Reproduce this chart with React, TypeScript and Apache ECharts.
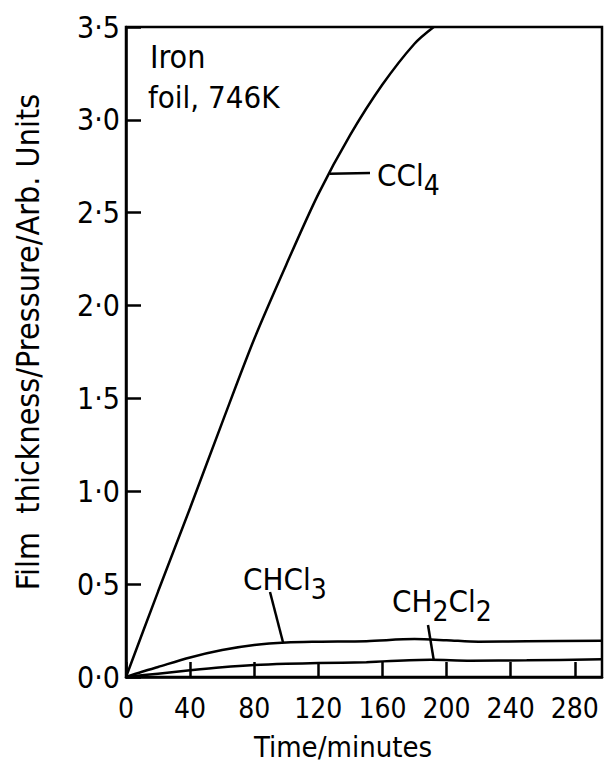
import React, { useEffect, useRef } from 'react';
import * as echarts from 'echarts';

const ccl4Time = [0, 20, 40, 60, 80, 100, 120, 140, 160, 180, 192];
const ccl4Vals = [0, 0.46, 0.91, 1.37, 1.82, 2.22, 2.6, 2.92, 3.19, 3.41, 3.5];

const chcl3Time = [0, 10, 20, 40, 60, 80, 100, 120, 150, 180, 200, 220, 250, 297];
const chcl3Vals = [0, 0.028, 0.054, 0.105, 0.145, 0.172, 0.186, 0.19, 0.193, 0.204, 0.198, 0.19, 0.192, 0.195];

const ch2cl2Time = [0, 20, 40, 60, 80, 100, 120, 150, 190, 215, 250, 297];
const ch2cl2Vals = [0, 0.018, 0.036, 0.052, 0.064, 0.071, 0.075, 0.08, 0.093, 0.088, 0.09, 0.095];

const xMin = 0;
const xMax = 297;
const xInterval = 40;
const yMin = 0;
const yMax = 3.5;
const yInterval = 0.5;

const xTitle = 'Time/minutes';
const yTitle = 'Film  thickness/Pressure/Arb. Units';

const TICK_FONT = "'Liberation Sans Narrow', 'DejaVu Sans Condensed', sans-serif";
const TEXT_FONT = "'DejaVu Sans Condensed', 'Liberation Sans Narrow', sans-serif";

const zip = (t: number[], v: number[]) => t.map((x, i) => [x, v[i]]);

export default function App() {
  const ref = useRef<HTMLDivElement>(null);
  useEffect(() => {
    document.body.style.margin = '0';
    const chart = echarts.init(ref.current!, null, { renderer: 'svg' });
    const lineStyle = { color: '#000', width: 2.5 };
    const axisCommon = {
      axisLine: { show: true, lineStyle: { color: '#000', width: 2.5 } },
      axisTick: { show: true, inside: true, length: 15, lineStyle: { color: '#000', width: 2.5 } },
      splitLine: { show: false },
    };
    chart.setOption({
      animation: false,
      backgroundColor: '#fff',
      grid: { left: 126, right: 5, top: 27, bottom: 87, show: true, borderColor: '#000', borderWidth: 2.5, containLabel: false },
      xAxis: {
        type: 'value', min: xMin, max: xMax, interval: xInterval,
        ...axisCommon,
        axisLabel: {
          margin: 17, fontSize: 28, color: '#000', fontFamily: TICK_FONT, showMaxLabel: false,
          formatter: (v: number) => (v % xInterval === 0 ? String(v) : ''),
        },
      },
      yAxis: {
        type: 'value', min: yMin, max: yMax, interval: yInterval,
        ...axisCommon,
        axisLabel: {
          margin: 6, fontSize: 30, color: '#000', fontFamily: TICK_FONT,
          formatter: (v: number) => v.toFixed(1).replace('.', '\u00b7'),
        },
      },
      series: [
        { name: 'CCl4', type: 'line', data: zip(ccl4Time, ccl4Vals), showSymbol: false, smooth: 0.3, lineStyle },
        { name: 'CHCl3', type: 'line', data: zip(chcl3Time, chcl3Vals), showSymbol: false, smooth: 0.3, lineStyle },
        { name: 'CH2Cl2', type: 'line', data: zip(ch2cl2Time, ch2cl2Vals), showSymbol: false, smooth: 0.3, lineStyle },
      ],
    });

    const p = (t: number, v: number) => chart.convertToPixel({ gridIndex: 0 }, [t, v]) as number[];
    const rich = {
      m: { fontSize: 31, fontFamily: TEXT_FONT, fill: '#000', color: '#000', verticalAlign: 'top' },
      s: { fontSize: 28, fontFamily: TEXT_FONT, fill: '#000', color: '#000', verticalAlign: 'top', padding: [12, 0, 0, 0] },
    };
    const txt = (x: number, y: number, text: string, size: number) => ({
      type: 'text', x, y,
      style: {
        text, fontSize: size, fontFamily: TEXT_FONT, fill: '#000',
        textAlign: 'left', textVerticalAlign: 'middle', align: 'left', verticalAlign: 'middle',
      },
    });
    const richTxt = (x: number, y: number, text: string) => ({
      type: 'text', x, y,
      style: { text, rich, fontSize: 31, fontFamily: TEXT_FONT, fill: '#000', textAlign: 'left', align: 'left', textVerticalAlign: 'top', verticalAlign: 'top' },
    });
    const leader = (a: number[], b: number[]) => ({
      type: 'line', shape: { x1: a[0], y1: a[1], x2: b[0], y2: b[1] }, style: { stroke: '#000', lineWidth: 2.5 },
    });
    const c1 = p(127, 2.71);
    const c2 = p(98, 0.186);
    const c3 = p(192, 0.092);
    chart.setOption({
      graphic: [
        {
          type: 'text', x: 28, y: 342, rotation: Math.PI / 2,
          style: { text: yTitle, fontSize: 32, fontFamily: TEXT_FONT, fill: '#000', textAlign: 'center', align: 'center', textVerticalAlign: 'middle', verticalAlign: 'middle' },
        },
        {
          type: 'text', x: 343, y: 747,
          style: { text: xTitle, fontSize: 29, fontFamily: TEXT_FONT, fill: '#000', textAlign: 'center', align: 'center', textVerticalAlign: 'middle', verticalAlign: 'middle' },
        },
        txt(150, 57, 'Iron', 32),
        txt(148, 97, 'foil, 746K', 31),
        richTxt(377, 159, '{m|CCl}{s|4}'),
        richTxt(243, 563, '{m|CHCl}{s|3}'),
        richTxt(392, 585, '{m|CH}{s|2}{m|Cl}{s|2}'),
        leader(c1, [370, 173]),
        leader(c2, [270, 592]),
        leader(c3, [428, 625]),
      ],
    });
    return () => chart.dispose();
  }, []);
  return <div ref={ref} style={{ width: 607, height: 764 }} />;
}
